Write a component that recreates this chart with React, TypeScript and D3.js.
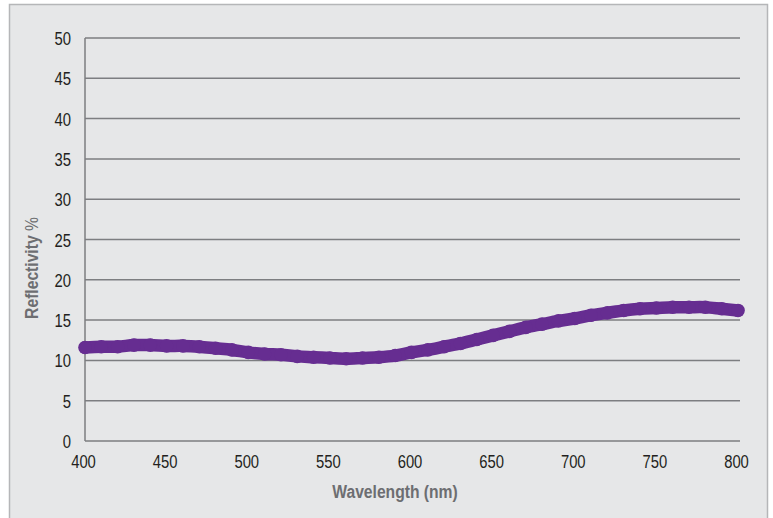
import * as d3 from "d3";
import type { ReactNode } from "react";

const wavelengths = [
  400, 410, 420, 430, 440, 450, 460, 470, 480, 490, 500, 510, 520, 530, 540,
  550, 560, 570, 580, 590, 600, 610, 620, 630, 640, 650, 660, 670, 680, 690,
  700, 710, 720, 730, 740, 750, 760, 770, 780, 790, 800,
];
const reflectivity = [
  11.6, 11.7, 11.7, 11.9, 11.9, 11.8, 11.8, 11.7, 11.5, 11.3, 11.0, 10.8,
  10.7, 10.5, 10.4, 10.3, 10.2, 10.3, 10.4, 10.6, 11.0, 11.3, 11.7, 12.1,
  12.6, 13.1, 13.6, 14.1, 14.5, 14.9, 15.2, 15.6, 15.9, 16.2, 16.4, 16.5,
  16.6, 16.6, 16.6, 16.4, 16.2,
];
const yTicks = [0, 5, 10, 15, 20, 25, 30, 35, 40, 45, 50];
const xTicks = [400, 450, 500, 550, 600, 650, 700, 750, 800];

const W = 773;
const H = 518;
const font = "'Liberation Sans', Arial, sans-serif";

// condensed text: Liberation Sans squeezed horizontally
function T({
  x,
  y,
  sx = 0.78,
  rotate = 0,
  children,
  ...rest
}: {
  x: number;
  y: number;
  sx?: number;
  rotate?: number;
  children: ReactNode;
  [k: string]: unknown;
}) {
  return (
    <g transform={`translate(${x},${y}) rotate(${rotate}) scale(${sx},1)`}>
      <text x={0} y={0} fontFamily={font} {...rest}>
        {children}
      </text>
    </g>
  );
}

export default function App() {
  const x = d3.scaleLinear().domain([400, 800]).range([85, 738]);
  const y = d3.scaleLinear().domain([0, 50]).range([441, 38]);

  const pts: [number, number][] = wavelengths.map((w, i) => [
    x(w),
    y(reflectivity[i]),
  ]);
  const line = d3.line().curve(d3.curveCatmullRom.alpha(0.5));

  return (
    <svg
      width={W}
      height={H}
      style={{ position: "absolute", left: 0, top: 0, background: "#fff" }}
    >
      <rect
        x={9.5}
        y={4.5}
        width={758}
        height={530}
        fill="#e6e7e8"
        stroke="#b5b6b8"
        strokeWidth={1.5}
      />
      {yTicks.map((t) => (
        <g key={`y-${t}`}>
          <line
            x1={85}
            x2={740}
            y1={y(t)}
            y2={y(t)}
            stroke="#7d7e81"
            strokeWidth={1.5}
          />
          <T x={71} y={y(t) + 7} textAnchor="end" fontSize={19} fill="#231f20">
            {t}
          </T>
        </g>
      ))}
      <line x1={85} x2={85} y1={y(50)} y2={y(0)} stroke="#7d7e81" strokeWidth={1.5} />
      {xTicks.map((t) => (
        <T
          key={`x-${t}`}
          x={x(t) - 1.5}
          y={468}
          textAnchor="middle"
          fontSize={19}
          fill="#231f20"
        >
          {t}
        </T>
      ))}
      <path
        d={line(pts) ?? ""}
        fill="none"
        stroke="#662d91"
        strokeWidth={12.5}
        strokeLinecap="round"
        strokeLinejoin="round"
      />
      {pts.map(([px, py], i) => (
        <circle key={`m-${i}`} cx={px} cy={py} r={6.8} fill="#662d91" />
      ))}
      <T
        x={395}
        y={498}
        sx={0.87}
        textAnchor="middle"
        fontWeight="bold"
        fontSize={18}
        fill="#6d6e71"
      >
        Wavelength (nm)
      </T>
      <T
        x={38}
        y={268}
        sx={0.87}
        rotate={-90}
        textAnchor="middle"
        fontSize={18}
        fill="#6d6e71"
      >
        <tspan fontWeight="bold">Reflectivity</tspan> %
      </T>
    </svg>
  );
}
